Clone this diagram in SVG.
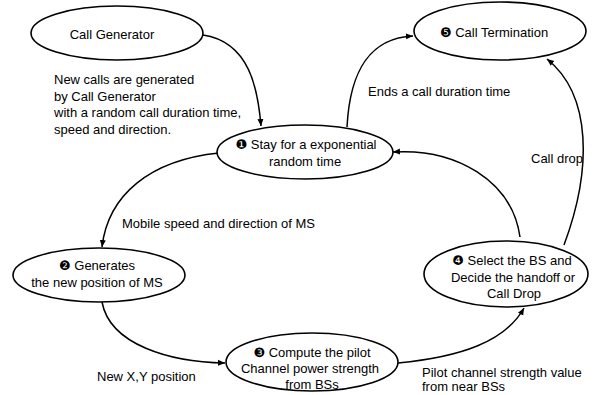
<svg xmlns="http://www.w3.org/2000/svg" width="596" height="395" viewBox="0 0 596 395">
<style>
.n{fill:#fff;stroke:#000;stroke-width:1.6}
.t{font-family:"Liberation Sans","DejaVu Sans",Arial,sans-serif;font-size:13px;fill:#000}
.c{text-anchor:middle}
.e{fill:none;stroke:#000;stroke-width:1.5}
</style>
<defs>
<marker id="ah" markerWidth="8" markerHeight="8" refX="7" refY="4" orient="auto" markerUnits="userSpaceOnUse">
<path d="M0,1 L7,4 L0,7 Z" fill="#000"/>
</marker>
</defs>
<rect width="596" height="395" fill="#fff"/>
<g id="connectors">
<path class="e" d="M203,35 C250,42 258,90 261,126" marker-end="url(#ah)"/>
<path class="e" d="M347,127 C350,70 370,38 413,36" marker-end="url(#ah)"/>
<path class="e" d="M520,237 C512,180 455,148 393,152" marker-end="url(#ah)"/>
<path class="e" d="M564,245 C592,170 592,95 547,59" marker-end="url(#ah)"/>
<path class="e" d="M219,153 C150,160 108,195 102,247" marker-end="url(#ah)"/>
<path class="e" d="M102,302 C110,345 170,362 225,363" marker-end="url(#ah)"/>
<path class="e" d="M398,363 C460,357 505,342 524,308" marker-end="url(#ah)"/>
</g>
<g id="call-generator">
<ellipse class="n" cx="117" cy="33" rx="86" ry="27"/>
<text class="t c" x="112" y="39">Call Generator</text>
</g>
<g id="call-termination">
<ellipse class="n" cx="500" cy="31" rx="86" ry="29"/>
<text class="t c" x="494" y="37">❺ Call Termination</text>
</g>
<g id="node1">
<ellipse class="n" cx="305" cy="152" rx="88" ry="27"/>
<text class="t c" x="306" y="149">❶ Stay for a exponential</text>
<text class="t c" x="305" y="166">random time</text>
</g>
<g id="node2">
<ellipse class="n" cx="99" cy="275" rx="86" ry="27"/>
<text class="t c" x="97" y="270">❷ Generates</text>
<text class="t c" x="97" y="287">the new position of MS</text>
</g>
<g id="node3">
<ellipse class="n" cx="312" cy="362" rx="86" ry="29"/>
<text class="t c" x="312" y="357">❸ Compute the pilot</text>
<text class="t c" x="310" y="373">Channel power strength</text>
<text class="t c" x="312" y="389">from BSs</text>
</g>
<g id="node4">
<ellipse class="n" cx="506" cy="274" rx="82" ry="33"/>
<text class="t c" x="512" y="265">❹ Select the BS and</text>
<text class="t c" x="513" y="282">Decide the handoff or</text>
<text class="t c" x="514" y="298">Call Drop</text>
</g>
<g id="labels">
<text class="t" x="54" y="84">New calls are generated</text>
<text class="t" x="54" y="100.5">by Call Generator</text>
<text class="t" x="54" y="117">with a random call duration time,</text>
<text class="t" x="54" y="133.5">speed and direction.</text>
<text class="t" x="368" y="96">Ends a call duration time</text>
<text class="t" x="531" y="163">Call drop</text>
<text class="t" x="122" y="228">Mobile speed and direction of MS</text>
<text class="t" x="97" y="381">New X,Y position</text>
<text class="t" x="422" y="377">Pilot channel strength value</text>
<text class="t" x="422" y="391">from near BSs</text>
</g>
</svg>
